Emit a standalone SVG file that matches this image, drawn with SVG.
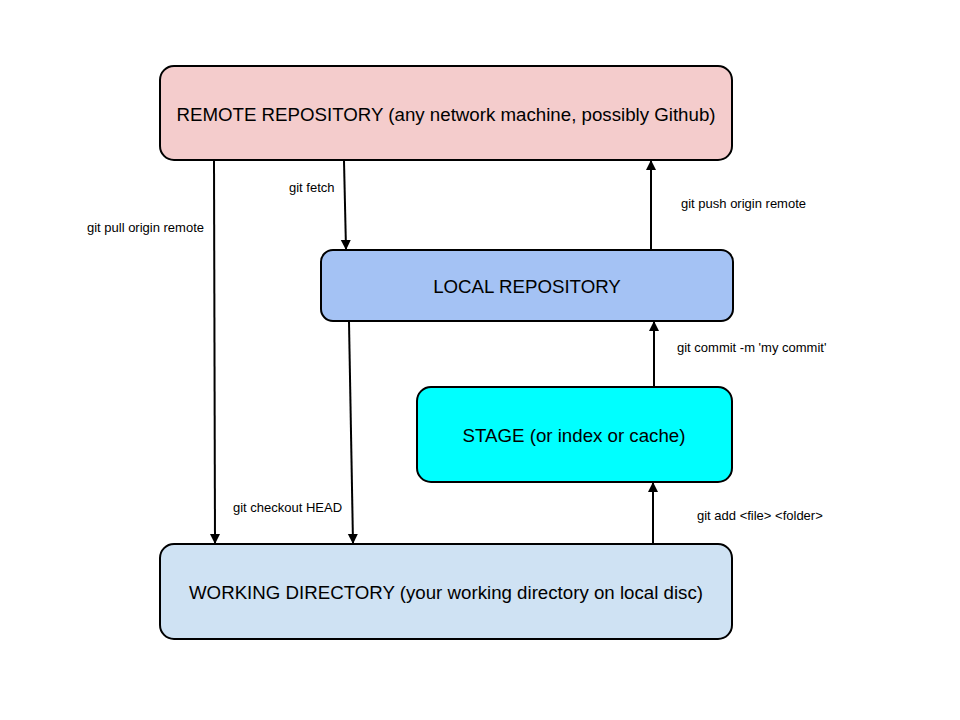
<svg xmlns="http://www.w3.org/2000/svg" width="960" height="720" viewBox="0 0 960 720">
<defs>
<marker id="ah" markerWidth="10" markerHeight="12" refX="9" refY="5" orient="auto" markerUnits="userSpaceOnUse">
<path d="M0,0 L10,5 L0,10 z" fill="#000"/>
</marker>
<style>
.box{stroke:#000;stroke-width:2}
.nl{font-family:"Liberation Sans",Arial,sans-serif;font-size:18.7px;fill:#000;text-anchor:middle;dominant-baseline:central}
.el{font-family:"Liberation Sans",Arial,sans-serif;font-size:13px;fill:#000}
.cn{stroke:#000;stroke-width:2;fill:none;marker-end:url(#ah)}
</style>
</defs>
<rect width="960" height="720" fill="#fff"/>
<g id="remote">
<rect class="box" x="160" y="66" width="572" height="94" rx="14" fill="#f4cccc"/>
<text class="nl" x="446" y="114">REMOTE REPOSITORY (any network machine, possibly Github)</text>
</g>
<g id="local">
<rect class="box" x="321" y="250" width="412" height="71" rx="12" fill="#a4c2f4"/>
<text class="nl" x="527" y="286">LOCAL REPOSITORY</text>
</g>
<g id="stage">
<rect class="box" x="417" y="387" width="315" height="95" rx="14" fill="#00ffff"/>
<text class="nl" x="574" y="435">STAGE (or index or cache)</text>
</g>
<g id="working">
<rect class="box" x="160" y="544" width="572" height="95" rx="14" fill="#cfe2f3"/>
<text class="nl" x="446" y="592">WORKING DIRECTORY (your working directory on local disc)</text>
</g>
<g id="connectors">
<line class="cn" x1="214" y1="161" x2="215" y2="543"/>
<text class="el" x="204" y="232" text-anchor="end">git pull origin remote</text>
<line class="cn" x1="344" y1="161" x2="346" y2="249"/>
<text class="el" x="289" y="192">git fetch</text>
<line class="cn" x1="349" y1="322" x2="353" y2="543"/>
<text class="el" x="233" y="512">git checkout HEAD</text>
<line class="cn" x1="651" y1="250" x2="651" y2="161"/>
<text class="el" x="681" y="208">git push origin remote</text>
<line class="cn" x1="654" y1="387" x2="654" y2="322"/>
<text class="el" x="677" y="352">git commit -m 'my commit'</text>
<line class="cn" x1="653" y1="544" x2="653" y2="483"/>
<text class="el" x="697" y="520">git add &lt;file&gt; &lt;folder&gt;</text>
</g>
</svg>
